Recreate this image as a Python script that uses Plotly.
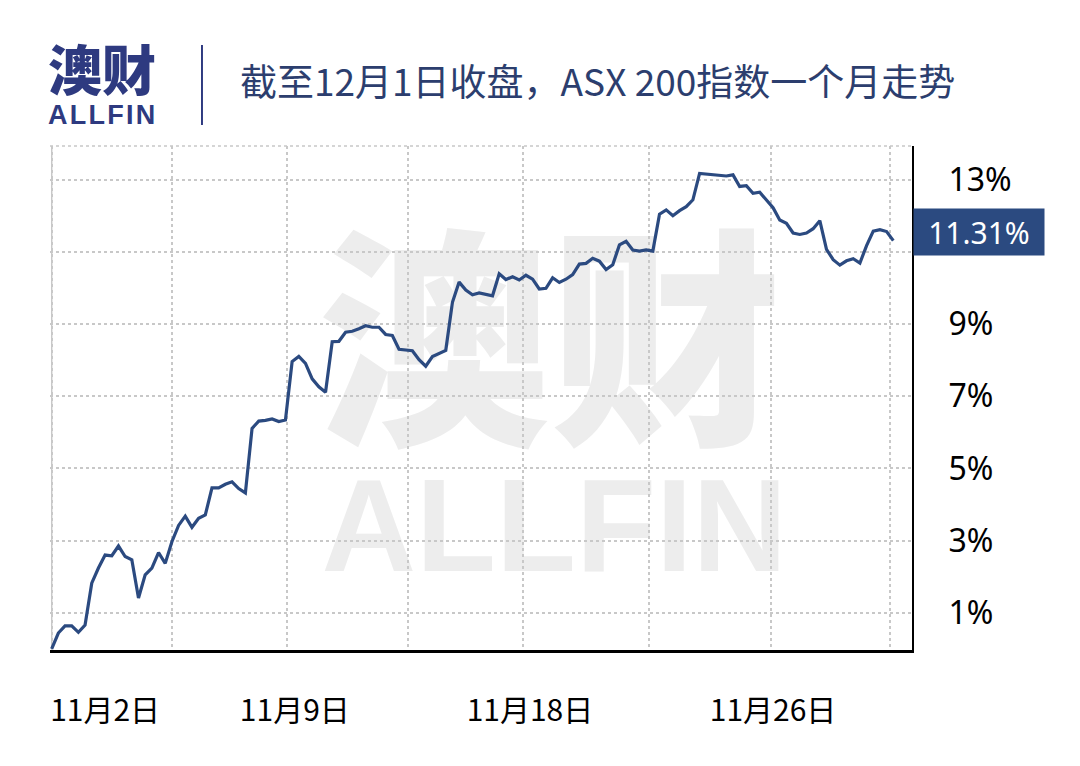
import plotly.graph_objects as go

# ASX 200 cumulative return (%) — one month of sessions
returns = [
    0.00, 0.44, 0.64, 0.64, 0.46, 0.66, 1.82, 2.24, 2.60, 2.58,
    2.85, 2.56, 2.47, 1.41, 2.05, 2.24, 2.67, 2.37, 2.97, 3.42,
    3.68, 3.37, 3.62, 3.71, 4.46, 4.46, 4.56, 4.63, 4.44, 4.32,
    6.11, 6.31, 6.33, 6.37, 6.30, 6.34, 7.96, 8.10, 7.91, 7.48,
    7.26, 7.11, 8.51, 8.52, 8.77, 8.80, 8.87, 8.95, 8.91, 8.91,
    8.71, 8.68, 8.30, 8.27, 8.26, 8.01, 7.83, 8.10, 8.18, 8.27,
    9.60, 10.16, 9.94, 9.81, 9.86, 9.83, 9.78, 10.39, 10.23, 10.31,
    10.22, 10.35, 10.24, 9.97, 9.99, 10.28, 10.15, 10.24, 10.37, 10.66,
    10.68, 10.82, 10.74, 10.51, 10.64, 11.19, 11.29, 11.05, 11.02, 11.05,
    11.02, 12.04, 12.16, 12.00, 12.14, 12.25, 12.44, 13.17, 13.15, 13.14,
    13.11, 13.10, 13.13, 12.81, 12.83, 12.62, 12.65, 12.42, 12.22, 11.88,
    11.79, 11.52, 11.48, 11.52, 11.64, 11.86, 11.07, 10.78, 10.63, 10.75,
    10.81, 10.69, 11.17, 11.57, 11.61, 11.56, 11.31,
]
sessions = list(range(len(returns)))

x_label_pos = [8.0, 36.4, 71.6, 108.0]
x_labels = ["11月2日", "11月9日", "11月18日", "11月26日"]
x_grid_pos = [0, 18.0, 35.2, 53.3, 70.6, 89.4, 107.7, 125.5]

y_ticks = [1, 3, 5, 7, 9, 11, 13]
y_tick_labels = ["1%", "3%", "5%", "7%", "9%", "", "13%"]

last_value_label = "11.31%"
title_text = "截至12月1日收盘，ASX 200指数一个月走势"
logo_cn = "澳财"
logo_en = "A\u200aL\u200aL\u200aF\u200aI\u200aN"

NAVY = "#2B4A80"
LOGO = "#2E3A80"
GRID = "#C8C8C8"

fig = go.Figure()
fig.add_trace(go.Scatter(
    x=sessions, y=returns, mode="lines",
    line=dict(color=NAVY, width=3.2),
    hoverinfo="skip", showlegend=False,
))

fig.update_layout(
    width=1080, height=766,
    margin=dict(l=50, r=168, t=146, b=116),
    paper_bgcolor="white", plot_bgcolor="white",
    showlegend=False,
    xaxis=dict(
        range=[-0.25, 128.8],
        tickmode="array", tickvals=x_label_pos, ticktext=x_labels,
        showgrid=False, zeroline=False, ticks="",
        showline=True, linecolor="black", linewidth=2.5,
        tickfont=dict(family="Liberation Sans Narrow, Noto Sans CJK SC", size=30, color="black"),
        ticklabelstandoff=32,
        minor=dict(tickmode="array", tickvals=x_grid_pos, showgrid=True,
                   gridcolor=GRID, griddash="dot", gridwidth=1.5, ticks=""),
    ),
    yaxis=dict(
        range=[-0.03, 13.93], side="right",
        tickmode="array", tickvals=y_ticks, ticktext=y_tick_labels,
        showgrid=True, gridcolor=GRID, griddash="dot", gridwidth=1.5,
        zeroline=False, ticks="",
        showline=True, linecolor="black", linewidth=2,
        tickfont=dict(family="Noto Sans, Open Sans", size=32, color="black"),
        ticklabelstandoff=28,
    ),
)

shapes = [
    # dotted top & left frame
    dict(type="line", xref="paper", yref="paper", x0=0, x1=1, y0=1, y1=1,
         line=dict(color=GRID, width=1.5, dash="dot"), layer="below"),
    dict(type="line", xref="paper", yref="paper", x0=0.002, x1=0.002, y0=0, y1=1,
         line=dict(color=GRID, width=1.5, dash="dot"), layer="below"),
    # header separator
    dict(type="line", xref="paper", yref="paper", x0=0.1763, x1=0.1763, y0=1.2004, y1=1.0417,
         line=dict(color=LOGO, width=2)),
    # watermark
    dict(type="rect", xref="paper", yref="paper", x0=0.30, x1=0.86, y0=0.34, y1=0.80,
         line=dict(width=0), fillcolor="rgba(0,0,0,0)", layer="below",
         label=dict(text=logo_cn, textposition="middle center",
                    font=dict(family="Noto Sans CJK SC", size=232, color="#EDEDED", weight=900))),
    dict(type="rect", xref="paper", yref="paper", x0=0.30, x1=0.87, y0=0.128, y1=0.412,
         line=dict(width=0), fillcolor="rgba(0,0,0,0)", layer="below",
         label=dict(text="ALLFIN", textposition="middle center",
                    font=dict(family="Liberation Sans, Arial", size=131, color="#EDEDED", weight=700))),
]
fig.update_layout(shapes=shapes)

annotations = [
    dict(text=logo_cn, xref="paper", yref="paper", x=0.0603, y=1.155,
         xanchor="center", yanchor="middle", showarrow=False,
         font=dict(family="Noto Sans CJK SC", size=54, color=LOGO, weight=900)),
    dict(text=logo_en, xref="paper", yref="paper", x=0.0603, y=1.061,
         xanchor="center", yanchor="middle", showarrow=False,
         font=dict(family="Liberation Sans, Arial", size=27, color=LOGO, weight=700)),
    dict(text=title_text, xref="paper", yref="paper", x=0.2181, y=1.131,
         xanchor="left", yanchor="middle", showarrow=False,
         font=dict(family="Noto Sans CJK SC", size=37, color="#2C3E6E")),
    dict(text=last_value_label, xref="paper", yref="y", x=1.0, y=returns[-1],
         xanchor="left", yanchor="middle", yshift=9, xshift=1, showarrow=False,
         width=130, height=46, borderpad=0, bgcolor=NAVY, align="center",
         font=dict(family="Noto Sans, Open Sans", size=30, color="white")),
]
fig.update_layout(annotations=annotations)

fig.write_html("out.html", config={"displayModeBar": False},
               post_script="document.body.style.margin='0';")
